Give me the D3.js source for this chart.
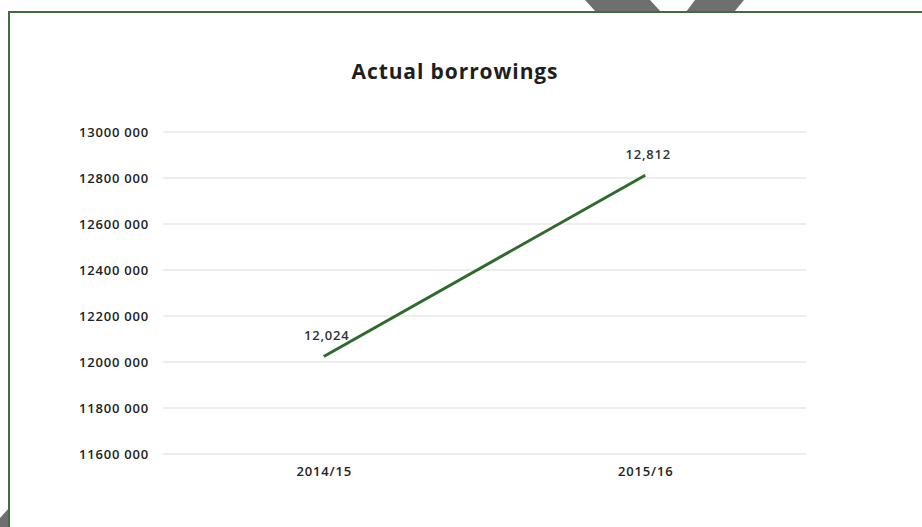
<!DOCTYPE html>
<html>
<head>
<meta charset="utf-8">
<script src="https://cdn.jsdelivr.net/npm/d3@7"></script>
<style>
  html, body { margin: 0; padding: 0; background: #fff; }
  svg { display: block; }
</style>
</head>
<body>
<svg id="chart" width="922" height="527"></svg>
<script>
// Borrowings in thousands
const years = ["2014/15", "2015/16"];
const borrowings = [12024, 12812];
const yTicks = [11600, 11800, 12000, 12200, 12400, 12600, 12800, 13000];
const chartTitle = "Actual borrowings";

const W = 922, H = 527;
const svg = d3.select("#chart");
const font = "'Open Sans', 'DejaVu Sans', sans-serif";

// decorative page shapes around the frame
svg.append("polygon")
  .attr("points", "585,0 650,0 661,12 596,12")
  .attr("fill", "#6f6f6f");
svg.append("polygon")
  .attr("points", "695,0 744,0 734,12 686,12")
  .attr("fill", "#6f6f6f");
svg.append("polygon")
  .attr("points", "0,518 9,508 9,527 0,527")
  .attr("fill", "#6f6f6f");

// frame
svg.append("rect")
  .attr("x", 9).attr("y", 12)
  .attr("width", W + 20).attr("height", H + 20)
  .attr("fill", "#fff")
  .attr("stroke", "#3f6e3c")
  .attr("stroke-width", 2);

const plotLeft = 163, plotRight = 806, plotTop = 132, plotBottom = 454;

const x = d3.scalePoint().domain(years).range([plotLeft, plotRight]).padding(0.5);
const y = d3.scaleLinear().domain([11600, 13000]).range([plotBottom, plotTop]);

// title
svg.append("text")
  .attr("x", 455).attr("y", 79)
  .attr("text-anchor", "middle")
  .attr("font-family", font)
  .attr("font-weight", "bold")
  .attr("font-size", 21)
  .attr("letter-spacing", 0.9)
  .attr("fill", "#1e1e1e")
  .text(chartTitle);

// horizontal grid
svg.append("g")
  .selectAll("line")
  .data(yTicks)
  .join("line")
  .attr("x1", plotLeft).attr("x2", plotRight)
  .attr("y1", d => y(d)).attr("y2", d => y(d))
  .attr("stroke", "#dcdcdc")
  .attr("stroke-width", 1.2);

const labelStyle = sel => sel
  .attr("font-family", font)
  .attr("font-weight", "600")
  .attr("font-size", 13)
  .attr("letter-spacing", 0.8)
  .attr("fill", "#222");

// y axis labels
const yAxis = d3.axisLeft(y)
  .tickValues(yTicks)
  .tickSize(0)
  .tickPadding(14)
  .tickFormat(d => d + " 000");
svg.append("g")
  .attr("transform", `translate(${plotLeft},0)`)
  .call(yAxis)
  .call(g => g.select(".domain").remove())
  .call(g => g.selectAll("text").call(labelStyle));

// x axis labels
const xAxis = d3.axisBottom(x).tickSize(0).tickPadding(13);
svg.append("g")
  .attr("transform", `translate(0,${plotBottom})`)
  .call(xAxis)
  .call(g => g.select(".domain").remove())
  .call(g => g.selectAll("text").call(labelStyle));

const points = years.map((yr, i) => ({ yr, v: borrowings[i] }));

// line
svg.append("path")
  .datum(points)
  .attr("fill", "none")
  .attr("stroke", "#2f6a2d")
  .attr("stroke-width", 3)
  .attr("d", d3.line().x(d => x(d.yr)).y(d => y(d.v)));

// value labels
svg.append("g")
  .selectAll("text")
  .data(points)
  .join("text")
  .attr("x", d => x(d.yr) + 3)
  .attr("y", d => y(d.v) - 16)
  .attr("text-anchor", "middle")
  .call(labelStyle)
  .attr("fill", "#333")
  .text(d => d3.format(",")(d.v));
</script>
</body>
</html>
